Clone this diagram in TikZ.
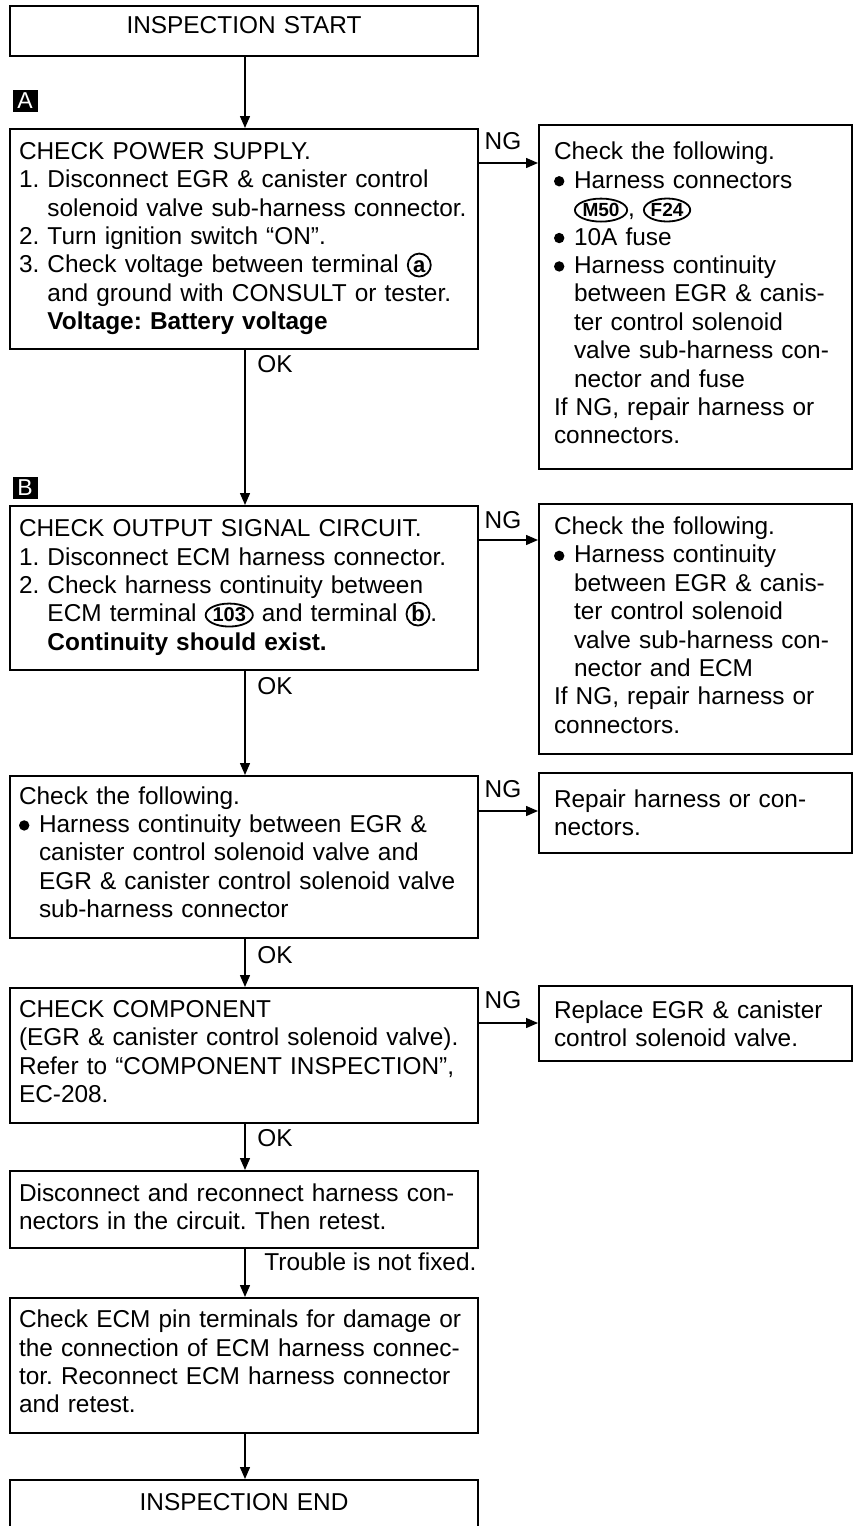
\documentclass[tikz,border=0pt]{standalone}
\usepackage{fontspec}
\setmainfont{Liberation Sans}
\usetikzlibrary{arrows.meta,shapes.geometric}
\newcommand\fs{\fontsize{12.2}{14.2}\selectfont\frenchspacing}
\newcommand\circl[1]{\tikz[baseline]\node[anchor=base,circle,draw,line width=0.9pt,inner sep=0pt,minimum size=11.5pt,text width=,align=center,font=\fontsize{11}{11}\selectfont\bfseries]{\vphantom{b}#1};}
\newcommand\ellip[2][10]{\tikz[baseline]\node[anchor=base,ellipse,draw,line width=0.9pt,inner sep=0pt,minimum width=0pt,minimum height=11.5pt,text width=,align=center,font=\fontsize{#1}{#1}\selectfont\bfseries]{#2};}
\newcommand\bul{\makebox[10pt][l]{\tikz[baseline]\fill (2.6pt,3.5pt) circle (2.6pt);}}
\newcommand\hind{\hspace*{10pt}}
\newcommand\nind[1]{\phantom{#1\ }}
\newcommand\pd[1]{\rule[-#1]{0pt}{#1}}
\tikzset{
 boxm/.style={draw,line width=1pt,anchor=north west,align=left,inner xsep=4.5pt,inner ysep=0pt,text width=225pt,minimum width=234pt,font=\fs},
 boxr/.style={draw,line width=1pt,anchor=north west,align=left,inner xsep=7.5pt,inner ysep=0pt,text width=141.5pt,minimum width=156.5pt,font=\fs},
 arr/.style={line width=0.7pt,-{Triangle[length=6pt,width=5pt]}},
 lbl/.style={inner sep=0pt,font=\fs},
 tag/.style={fill=black,text=white,inner sep=0pt,minimum width=12.5pt,minimum height=11pt,font=\fontsize{11.5}{11.5}\selectfont},
}
\begin{document}
\begin{tikzpicture}[x=0.5pt,y=-0.5pt]
\useasboundingbox (0,0) rectangle (855,1526);
\clip (0,0) rectangle (855,1526);
\coordinate (mx) at (245,0);

\node[boxm,align=center,minimum height=25pt] (start) at (9,5) {\raisebox{3pt}[\height][\depth]{INSPECTION START}};

\node[tag] (tagA) at (25,101) {A};
\node[boxm,minimum height=110pt] (A) at (9,128) {CHECK POWER SUPPLY.\\
1. Disconnect EGR \& canister control\\
\nind{1.}solenoid valve sub-harness connector.\\
2. Turn ignition switch “ON”.\\
3. Check voltage between terminal \circl{a}\\
\nind{3.}and ground with CONSULT or tester.\\
\nind{3.}\textbf{Voltage: Battery voltage}\pd{3pt}};

\node[boxr,minimum height=172pt] (R1) at (538,124) {Check the following.\\
\bul Harness connectors\\
\hind\ellip[9.5]{M50}, \ellip[9.5]{F24}\\
\bul 10A fuse\\
\bul Harness continuity\\
\hind between EGR \& canis-\\
\hind ter control solenoid\\
\hind valve sub-harness con-\\
\hind nector and fuse\\
If NG, repair harness or\\
connectors.\pd{4pt}};

\node[tag] (tagB) at (25,488) {B};
\node[boxm,minimum height=82pt] (B) at (9,505) {CHECK OUTPUT SIGNAL CIRCUIT.\\
1. Disconnect ECM harness connector.\\
2. Check harness continuity between\\
\nind{2.}ECM terminal \ellip{103} and terminal \circl{b}.\\
\nind{2.}\textbf{Continuity should exist.}\pd{3pt}};

\node[boxr,minimum height=125pt] (R2) at (538,503) {Check the following.\\
\bul Harness continuity\\
\hind between EGR \& canis-\\
\hind ter control solenoid\\
\hind valve sub-harness con-\\
\hind nector and ECM\\
If NG, repair harness or\\
connectors.\pd{4pt}};

\node[boxm,minimum height=81pt] (C) at (9,775) {Check the following.\\
\bul Harness continuity between EGR \&\\
\hind canister control solenoid valve and\\
\hind EGR \& canister control solenoid valve\\
\hind sub-harness connector\pd{5pt}};

\node[boxr,minimum height=40pt] (R3) at (538,772) {Repair harness or con-\\nectors.};

\node[boxm,minimum height=67.5pt] (D) at (9,987) {CHECK COMPONENT\\
(EGR \& canister control solenoid valve).\\
Refer to “COMPONENT INSPECTION”,\\
EC-208.\pd{4pt}};

\node[boxr,minimum height=37.5pt] (R4) at (538,985) {Replace EGR \& canister\\control solenoid valve.};

\node[boxm,minimum height=38.5pt] (E) at (9,1170) {Disconnect and reconnect harness con-\\
nectors in the circuit. Then retest.\pd{3pt}};

\node[boxm,minimum height=67.5pt] (F) at (9,1297) {Check ECM pin terminals for damage or\\
the connection of ECM harness connec-\\
tor. Reconnect ECM harness connector\\
and retest.\pd{4pt}};

\node[boxm,align=center,minimum height=25pt] (end) at (9,1479) {\raisebox{1.5pt}[\height][\depth]{INSPECTION END}};

% vertical connectors
\draw[arr] (start.south -| mx) -- (A.north -| mx);
\draw[arr] (A.south -| mx) -- (B.north -| mx);
\draw[arr] (B.south -| mx) -- (C.north -| mx);
\draw[arr] (C.south -| mx) -- (D.north -| mx);
\draw[arr] (D.south -| mx) -- (E.north -| mx);
\draw[arr] (E.south -| mx) -- (F.north -| mx);
\draw[arr] (F.south -| mx) -- (end.north -| mx);

% NG connectors
\draw[arr] (A.east |- 0,163) -- (R1.west |- 0,163);
\draw[arr] (B.east |- 0,540) -- (R2.west |- 0,540);
\draw[arr] (C.east |- 0,811) -- (R3.west |- 0,811);
\draw[arr] (D.east |- 0,1023) -- (R4.west |- 0,1023);

\node[lbl] (ng1) at (503,141) {NG};
\node[lbl] (ng2) at (503,520) {NG};
\node[lbl] (ng3) at (503,789) {NG};
\node[lbl] (ng4) at (503,1000) {NG};

\node[lbl,anchor=west] (ok1) at (257,364) {OK};
\node[lbl,anchor=west] (ok2) at (257,686) {OK};
\node[lbl,anchor=west] (ok3) at (257,955) {OK};
\node[lbl,anchor=west] (ok4) at (257,1138) {OK};
\node[lbl,anchor=west] (tr) at (264,1262) {Trouble is not fixed.};
\end{tikzpicture}
\end{document}
